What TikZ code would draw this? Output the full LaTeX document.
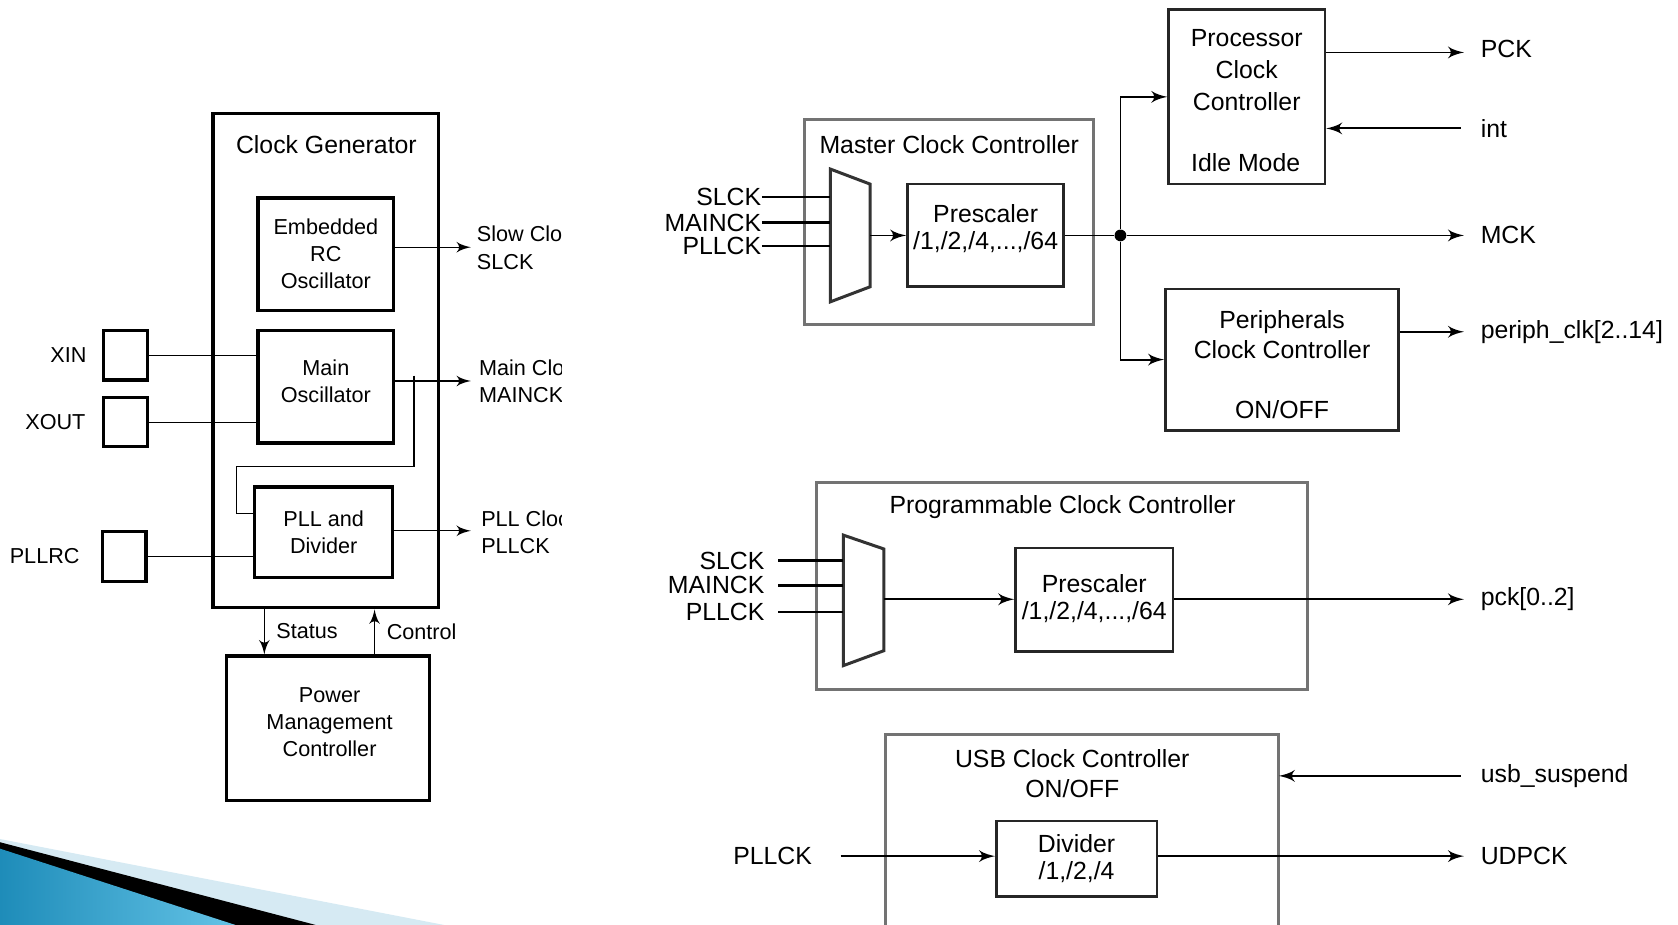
\documentclass[tikz,border=0pt]{standalone}
\usepackage{fontspec}
\setmainfont{Liberation Sans}
\usetikzlibrary{arrows}
\usetikzlibrary{positioning}
\tikzset{circ/.style = {fill, circle, inner sep = 0, minimum size = 0.11cm}}
\tikzset{lfont/.style = {font = \fontsize{5.75}{7.2}\selectfont}}
\tikzset{blk/.style = {draw, line width = 0.85pt, inner sep = 0, align = center, lfont}}
\tikzset{pad/.style = {blk, minimum width = 0.41cm, minimum height = 0.46cm}}
\tikzset{gbox/.style = {draw = black!55, line width = 0.8pt, inner sep = 0}}
\tikzset{ibox/.style = {draw = black!85, line width = 0.7pt, inner sep = 0, align = center}}
\tikzset{txt/.style = {inner sep = 0, align = center}}
\tikzset{thin wire/.style = {line width = 0.35pt}}
\tikzset{wire/.style = {line width = 0.5pt}}
\definecolor{wedgeblue}{RGB}{30,140,185}
\definecolor{wedgelight}{RGB}{100,195,230}
\definecolor{wedgepale}{RGB}{214,234,243}

\begin{document}
\begin{tikzpicture}[y = -1cm, font = \fontsize{6.6}{7.3}\selectfont]
    \useasboundingbox (0, 0) rectangle (15.68, 8.643);

    % slide decoration
    \fill [wedgepale] (0, 7.84) -- (4.15, 8.643) -- (0, 8.643) -- cycle;
    \fill [black] (0, 7.87) -- (2.95, 8.643) -- (0, 8.643) -- cycle;
    \shade [left color = wedgeblue, right color = wedgelight] (0, 7.93) -- (2.2, 8.643) -- (0, 8.643) -- cycle;

    % clock generator
    \node [blk, minimum width = 2.11cm, minimum height = 4.62cm] (cg) at (3.045, 3.37) {};
    \node [txt] (cgtitle) at (3.05, 1.35) {Clock Generator};
    \node [blk, minimum width = 1.27cm, minimum height = 1.05cm] (rc) at (3.045, 2.375) {Embedded\\RC\\Oscillator};
    \node [blk, minimum width = 1.27cm, minimum height = 1.05cm] (mosc) at (3.045, 3.615) {};
    \node [txt, lfont] (mosctxt) at (3.045, 3.56) {Main\\Oscillator};
    \node [blk, minimum width = 1.29cm, minimum height = 0.85cm] (pll) at (3.025, 4.975) {PLL and\\Divider};

    \node [pad] (xin) at (1.175, 3.32) {};
    \node [pad] (xout) at (1.175, 3.945) {};
    \node [pad] (pllrc) at (1.16, 5.20) {};
    \node [txt, lfont, left = 0.14cm of xin] (xinlbl) {XIN};
    \node [txt, lfont, left = 0.15cm of xout] (xoutlbl) {XOUT};
    \node [txt, lfont, left = 0.19cm of pllrc] (pllrclbl) {PLLRC};

    \draw [thin wire] (xin.east) -- (xin.east -| mosc.west);
    \draw [thin wire] (xout.east) -- (xout.east -| mosc.west);
    \draw [thin wire] (pllrc.east) -- (pllrc.east -| pll.west);

    \coordinate (slck) at (4.40, 2.31);
    \coordinate (mainck) at (4.40, 3.56);
    \coordinate (pllck) at (4.40, 4.96);
    \draw [-latex', thin wire] (rc.east |- slck) -- (slck);
    \draw [-latex', thin wire] (mosc.east |- mainck) -- (mainck);
    \draw [-latex', thin wire] (pll.east |- pllck) -- (pllck);

    \coordinate (tap) at (3.87, 3.51);
    \draw [thin wire] (tap) |- (2.21, 4.36) |- (pll.west |- 2.21, 4.80);

    \begin{scope}
      \clip (4.3, 1.9) rectangle (5.25, 5.4);
      \node [txt, lfont, anchor = west, align = left] (slcklbl) at (4.45, 2.315) {Slow Clo\\SLCK};
      \node [txt, lfont, anchor = west, align = left] (mainlbl) at (4.47, 3.56) {Main Clo\\MAINCK};
      \node [txt, lfont, anchor = west, align = left] (plllbl) at (4.49, 4.97) {PLL Cloc\\PLLCK};
    \end{scope}

    % power management controller
    \node [blk, minimum width = 1.89cm, minimum height = 1.35cm] (pmc) at (3.065, 6.805) {};
    \node [txt, lfont] (pmctxt) at (3.08, 6.745) {Power\\Management\\Controller};
    \draw [-latex', thin wire] (cg.south -| 2.47, 0) -- (pmc.north -| 2.47, 0);
    \draw [-latex', thin wire] (pmc.north -| 3.50, 0) -- (cg.south -| 3.50, 0);
    \node [txt, lfont] (status) at (2.87, 5.90) {Status};
    \node [txt, lfont] (control) at (3.94, 5.90) {Control};

    % master clock controller
    \node [gbox, minimum width = 2.70cm, minimum height = 1.91cm] (mcc) at (8.87, 2.075) {};
    \node [txt] (mcctitle) at (8.87, 1.35) {Master Clock Controller};
    \coordinate (mux1l) at (7.76, 1.58);
    \coordinate (mux1r) at (8.13, 2.20);
    \draw [line width = 0.8pt, black!80] (mux1l) -- (8.13, 1.72) -- (8.13, 2.68) -- (7.76, 2.82) -- cycle;
    \node [txt, anchor = east] (slck1) at (7.12, 1.84) {SLCK};
    \node [txt, anchor = east] (mainck1) at (7.12, 2.08) {MAINCK};
    \node [txt, anchor = east] (pllck1) at (7.12, 2.30) {PLLCK};
    \draw [line width = 0.7pt] (slck1.east) -- (slck1.east -| mux1l);
    \draw [line width = 0.7pt] (mainck1.east) -- (mainck1.east -| mux1l);
    \draw [line width = 0.7pt] (pllck1.east) -- (pllck1.east -| mux1l);

    \node [ibox, minimum width = 1.46cm, minimum height = 0.96cm] (pre1) at (9.21, 2.20) {};
    \node [txt] (pre1txt) at (9.21, 2.135) {Prescaler\\/1,/2,/4,...,/64};
    \draw [-latex', wire] (mux1r) -- (pre1.west);

    \node [circ] (jn) at (10.47, 2.20) {};
    \draw [wire] (pre1.east) -- (jn);
    \coordinate (mck) at (13.68, 2.20);
    \draw [-latex', wire] (jn) -- (mck);
    \node [txt, right = 0.15cm of mck] (mcklbl) {MCK};

    % processor clock controller
    \node [ibox, minimum width = 1.46cm, minimum height = 1.63cm] (pcc) at (11.65, 0.905) {};
    \node [txt, font = \fontsize{6.6}{8.4}\selectfont] (pcctxt) at (11.65, 0.655) {Processor\\Clock\\Controller};
    \node [txt] (idle) at (11.64, 1.52) {Idle Mode};
    \draw [-latex', wire] (jn) |- (pcc.west);
    \coordinate (pck) at (13.68, 0.49);
    \draw [-latex', wire] (pcc.east |- pck) -- (pck);
    \node [txt, right = 0.15cm of pck, yshift = 0.03cm] (pcklbl) {PCK};
    \coordinate (int) at (13.65, 1.20);
    \draw [-latex', wire] (int) -- (int -| pcc.east);
    \node [txt, right = 0.18cm of int] (intlbl) {int};

    % peripherals clock controller
    \node [ibox, minimum width = 2.18cm, minimum height = 1.32cm] (perc) at (11.98, 3.36) {};
    \node [txt, font = \fontsize{6.6}{8}\selectfont] (perctxt) at (11.98, 3.13) {Peripherals\\Clock Controller};
    \node [txt] (percon) at (11.98, 3.83) {ON/OFF};
    \draw [-latex', wire] (jn) |- (perc.west);
    \coordinate (periph) at (13.68, 3.10);
    \draw [-latex', wire] (perc.east |- periph) -- (periph);
    \node [txt, right = 0.15cm of periph] (periphlbl) {periph\_clk[2..14]};

    % programmable clock controller
    \node [gbox, minimum width = 4.59cm, minimum height = 1.93cm] (pgcc) at (9.925, 5.475) {};
    \node [txt] (pgcctitle) at (9.93, 4.74) {Programmable Clock Controller};
    \coordinate (mux2l) at (7.88, 5.00);
    \coordinate (mux2r) at (8.26, 5.60);
    \draw [line width = 0.8pt, black!80] (mux2l) -- (8.26, 5.13) -- (8.26, 6.08) -- (7.88, 6.22) -- cycle;
    \node [txt, anchor = east] (slck2) at (7.15, 5.24) {SLCK};
    \node [txt, anchor = east] (mainck2) at (7.15, 5.47) {MAINCK};
    \node [txt, anchor = east] (pllck2) at (7.15, 5.72) {PLLCK};
    \draw [line width = 0.7pt] ([xshift = 0.12cm]slck2.east) -- (slck2.east -| mux2l);
    \draw [line width = 0.7pt] ([xshift = 0.12cm]mainck2.east) -- (mainck2.east -| mux2l);
    \draw [line width = 0.7pt] ([xshift = 0.12cm]pllck2.east) -- (pllck2.east -| mux2l);

    \node [ibox, minimum width = 1.47cm, minimum height = 0.97cm] (pre2) at (10.225, 5.605) {};
    \node [txt] (pre2txt) at (10.225, 5.595) {Prescaler\\/1,/2,/4,...,/64};
    \draw [-latex', wire] (mux2r) -- (mux2r -| pre2.west);
    \coordinate (pckout) at (13.68, 5.60);
    \draw [-latex', wire] (pckout -| pre2.east) -- (pckout);
    \node [txt, right = 0.15cm of pckout] (pcklbl2) {pck[0..2]};

    % usb clock controller
    \coordinate (usbtl) at (8.27, 6.86);
    \coordinate (usbtr) at (11.95, 6.86);
    \draw [gbox] (8.27, 8.643) -- (usbtl) -- (usbtr) -- (11.95, 8.643);
    \node [txt, font = \fontsize{6.6}{8}\selectfont] (usbtitle) at (10.02, 7.23) {USB Clock Controller\\ON/OFF};
    \node [ibox, minimum width = 1.50cm, minimum height = 0.71cm] (div) at (10.06, 8.025) {Divider\\/1,/2,/4};
    \node [txt] (pllck3) at (7.22, 8.00) {PLLCK};
    \draw [-latex', wire] ([xshift = 0.26cm]pllck3.east) -- (pllck3.east -| div.west);
    \coordinate (udpck) at (13.68, 8.00);
    \draw [-latex', wire] (udpck -| div.east) -- (udpck);
    \node [txt, right = 0.15cm of udpck] (udpcklbl) {UDPCK};
    \coordinate (susp) at (13.65, 7.25);
    \draw [-latex', wire] (susp) -- (susp -| usbtr);
    \node [txt, right = 0.18cm of susp] (susplbl) {usb\_suspend};
  \end{tikzpicture}
\end{document}
